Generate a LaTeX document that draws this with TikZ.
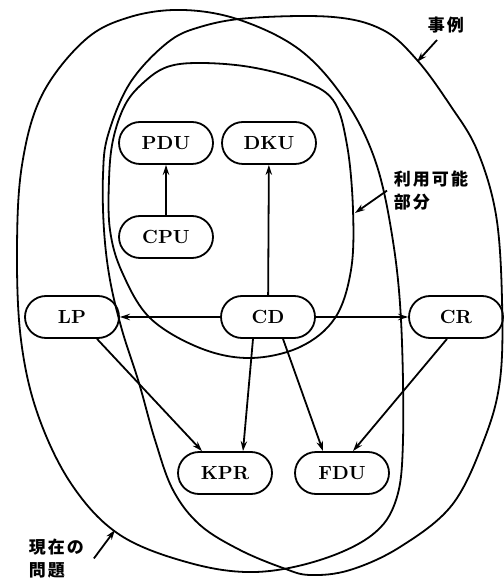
\documentclass[tikz,border=0pt]{standalone}
\usepackage{fontspec}
\newfontfamily\jpfont{Noto Sans CJK JP}
\usetikzlibrary{arrows.meta}
\tikzset{
  unit/.style={draw,rounded corners=10.5pt,minimum width=47pt,minimum height=21pt,
    inner sep=0pt,font=\fontsize{9.5}{10}\selectfont\bfseries},
  note/.style={inner sep=0pt,align=left,
    font=\jpfont\bfseries\fontsize{8.5}{11.5}\selectfont\addfontfeature{LetterSpace=12}},
}
\begin{document}
\begin{tikzpicture}[x=.5pt,y=-.5pt,>={Stealth[length=5pt,width=3.2pt]},line width=.9pt]
  \useasboundingbox (0,0) rectangle (503,581);
  % sets
  \draw plot[smooth cycle,tension=.6] coordinates {(130,17) (183,10) (240,20) (300,50)
    (345,100) (375,160) (392,235) (401,320) (403,440) (396,500) (372,535) (320,560)
    (255,572) (190,563) (120,535) (72,485) (38,415) (21,340) (17,250) (22,165) (42,95) (85,40)};
  \draw plot[smooth cycle,tension=.6] coordinates {(250,18) (333,17) (383,30) (417,60)
    (450,105) (477,150) (496,215) (502,300) (500,380) (484,440) (452,505) (400,547)
    (350,570) (310,575) (283,568) (240,550) (200,525) (173,490) (155,440) (139,383)
    (122,330) (110,280) (104,230) (103,175) (108,135) (130,83) (167,43) (200,27)};
  \draw plot[smooth cycle,tension=.6] coordinates {(200,63) (250,67) (300,80) (333,100)
    (347,145) (353,210) (351,270) (335,318) (300,347) (250,358) (200,348) (150,318)
    (122,272) (110,230) (109,180) (113,140) (125,105) (143,83) (167,67)};
  % units
  \node[unit] (pdu) at (166,143) {PDU};
  \node[unit] (dku) at (269,143) {DKU};
  \node[unit] (cpu) at (166,237) {CPU};
  \node[unit] (lp) at (72,317) {LP};
  \node[unit] (cd) at (268,317) {CD};
  \node[unit] (cr) at (456,317) {CR};
  \node[unit] (kpr) at (225,473) {KPR};
  \node[unit] (fdu) at (342,473) {FDU};
  \draw[->] (cpu) -- (pdu);
  \draw[->] (cd) -- (dku);
  \draw[->] (cd) -- (lp);
  \draw[->] (cd) -- (cr);
  \draw[->] ([xshift=-7.5pt]cd.south) -- ([xshift=9pt]kpr.north);
  \draw[->] ([xshift=7.5pt]cd.south) -- ([xshift=-9.5pt]fdu.north);
  \draw[->] ([xshift=12.5pt]lp.south) -- ([xshift=-11.5pt]kpr.north);
  \draw[->] ([xshift=-4.5pt]cr.south) -- ([xshift=5.5pt]fdu.north);
  % labels
  \node[note,anchor=west] (jirei) at (427,25) {事例};
  \node[note,anchor=north west] (riyou) at (393,170) {利用可能\\部分};
  \node[note,anchor=south west] (genzai) at (28,579) {現在の\\問題};
  \coordinate (jirei tip) at (417,62);
  \coordinate (riyou tip) at (355,213);
  \coordinate (genzai tip) at (115,530);
  \draw[->] ([xshift=5pt,yshift=-3pt]jirei.south west) -- (jirei tip);
  \draw[->] ([xshift=-3pt]riyou.west) -- (riyou tip);
  \draw[->] ([xshift=4.5pt]genzai.east) -- (genzai tip);
\end{tikzpicture}
\end{document}
